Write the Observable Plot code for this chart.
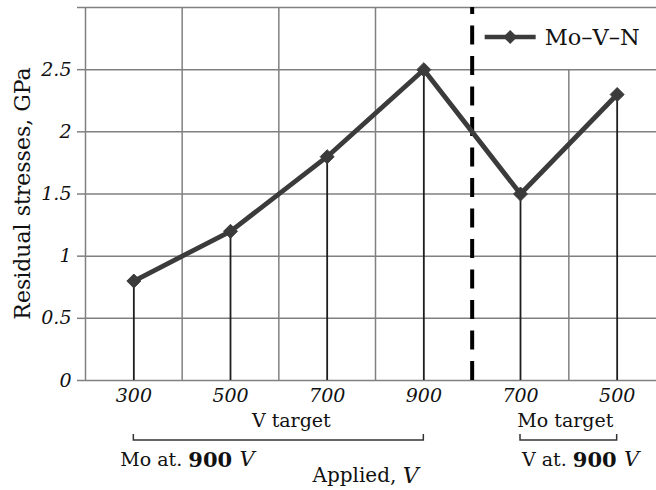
<!DOCTYPE html>
<html><head><meta charset="utf-8">
<script src="https://cdn.jsdelivr.net/npm/d3@7"></script>
<script src="https://cdn.jsdelivr.net/npm/@observablehq/plot@0.6"></script>
<style>
html,body{margin:0;padding:0;background:#fff;overflow:hidden}
#chart svg{display:block;overflow:hidden;background:#fff}
</style>
</head><body><div id="chart"></div>
<script>
// ---- data ----
const voltageLabels = ["300", "500", "700", "900", "700", "500"];
const stress = [0.8, 1.2, 1.8, 2.5, 1.5, 2.3];
const target = ["V", "V", "V", "V", "Mo", "Mo"];
const yTicks = [0, 0.5, 1, 1.5, 2, 2.5, 3];
const groupNames = ["V target", "Mo target"];
const groupNotes = [["Mo at. ", "900", "V"], ["V at. ", "900", "V"]];
const seriesName = "Mo–V–N";
const yLabel = "Residual stresses, GPa";
const xLabel = ["Applied, ", "V"];

// ---- derived table ----
const data = stress.map((s, i) => ({pos: 2 * i + 1, label: voltageLabels[i], stress: s, target: target[i]}));
const slots = data.length * 2;
const groups = ["V", "Mo"].map((t, gi) => {
  const rows = data.filter(d => d.target === t);
  return {name: groupNames[gi], note: groupNotes[gi], first: rows[0].pos, last: rows[rows.length - 1].pos};
});
const dividerPos = groups[1].first - 1;
const gridLeft = d3.range(0, dividerPos, 2);
const gridRight = d3.range(dividerPos + 2, slots, 2);
const yMax = d3.max(yTicks);
const yLabelTop = yTicks[yTicks.length - 2];

const serif = "DejaVu Serif, serif";
const lineColor = "#3b3b3b";
const gridColor = "#808080";

const plot = Plot.plot({
  width: 656,
  height: 490,
  marginLeft: 85,
  marginRight: 0,
  marginTop: 7,
  marginBottom: 110,
  style: {fontFamily: serif, background: "#fff"},
  x: {domain: [0, slots], range: [85, 665]},
  y: {domain: [0, yMax]},
  marks: [
    Plot.ruleY(yTicks, {stroke: gridColor, strokeWidth: 1.5}),
    Plot.ruleX(gridLeft, {y1: 0, y2: yMax, stroke: gridColor, strokeWidth: 1.5}),
    Plot.ruleX(gridRight, {y1: 0, y2: yLabelTop, stroke: gridColor, strokeWidth: 1.5}),
    Plot.axisY({ticks: yTicks, tickSize: 8, tickPadding: 6, label: null, stroke: gridColor, strokeWidth: 1.5,
      tickFormat: d => d === yMax ? "" : String(d), fontSize: 19, fontStyle: "italic", fontFamily: serif, fill: "#111"}),
    Plot.ruleX([dividerPos], {y1: 0, y2: yMax, stroke: "#000", strokeWidth: 4, strokeDasharray: "19,11.5"}),
    Plot.ruleX(data, {x: "pos", y1: 0, y2: "stress", stroke: "#1e1e1e", strokeWidth: 1.8}),
    Plot.line(data, {x: "pos", y: "stress", stroke: lineColor, strokeWidth: 4.8}),
    Plot.dot(data, {x: "pos", y: "stress", symbol: "diamond2", r: 6.3, fill: lineColor, stroke: lineColor, strokeWidth: 1}),
    Plot.axisX({ticks: data.map(d => d.pos), tickSize: 0, tickPadding: 8, label: null,
      tickFormat: p => voltageLabels[(p - 1) / 2], fontSize: 19, fontStyle: "italic", fontFamily: serif, fill: "#111"})
  ]
});

document.getElementById("chart").appendChild(plot);

// ---- annotations placed through the plot's own scales ----
const sx = plot.scale("x").apply.bind(plot.scale("x"));
const sy = plot.scale("y").apply.bind(plot.scale("y"));
const svg = d3.select(plot);
const g = svg.append("g").attr("font-family", serif).attr("fill", "#111").attr("text-anchor", "start");
const base = sy(0);

const nameDx = [13, -3];
const noteDx = [-13, 2];
groups.forEach((gr, i) => {
  const x1 = sx(gr.first), x2 = sx(gr.last);
  g.append("path").attr("d", `M${x1},${base + 54}V${base + 60}H${x2}V${base + 54}`)
    .attr("fill", "none").attr("stroke", "#333").attr("stroke-width", 1.5);
  g.append("text").attr("x", (x1 + x2) / 2 + nameDx[i]).attr("y", base + 40)
    .attr("text-anchor", "middle").attr("dominant-baseline", "central").attr("font-size", 19).text(gr.name);
  const t = g.append("text").attr("x", x1 + noteDx[i]).attr("y", base + 79)
    .attr("dominant-baseline", "central").attr("font-size", 19);
  t.append("tspan").text(gr.note[0]);
  t.append("tspan").attr("font-weight", "bold").attr("font-size", 21).text(gr.note[1] + " ");
  t.append("tspan").attr("font-style", "italic").attr("font-size", 21).text(gr.note[2]);
});

const xl = g.append("text").attr("x", (sx(0) + 656) / 2 - 5).attr("y", base + 95)
  .attr("text-anchor", "middle").attr("dominant-baseline", "central").attr("font-size", 20);
xl.append("tspan").text(xLabel[0]);
xl.append("tspan").attr("font-style", "italic").attr("font-size", 22).text(xLabel[1]);

g.append("text").attr("transform", `translate(22,${(sy(0) + sy(yMax)) / 2}) rotate(-90)`)
  .attr("text-anchor", "middle").attr("dominant-baseline", "central").attr("font-size", 22).text(yLabel);

// legend
const lx = sx(dividerPos) + 13, ly = sy(yMax) + 30;
g.append("line").attr("x1", lx).attr("x2", lx + 51).attr("y1", ly).attr("y2", ly)
  .attr("stroke", lineColor).attr("stroke-width", 4.5);
g.append("path").attr("d", d3.symbol(d3.symbolDiamond2, Math.PI * 6.3 * 6.3)()).attr("transform", `translate(${lx + 25.5},${ly})`)
  .attr("fill", lineColor);
g.append("text").attr("x", lx + 60).attr("y", ly).attr("dominant-baseline", "central")
  .attr("font-size", 22.5).text(seriesName);
</script>
</body></html>
